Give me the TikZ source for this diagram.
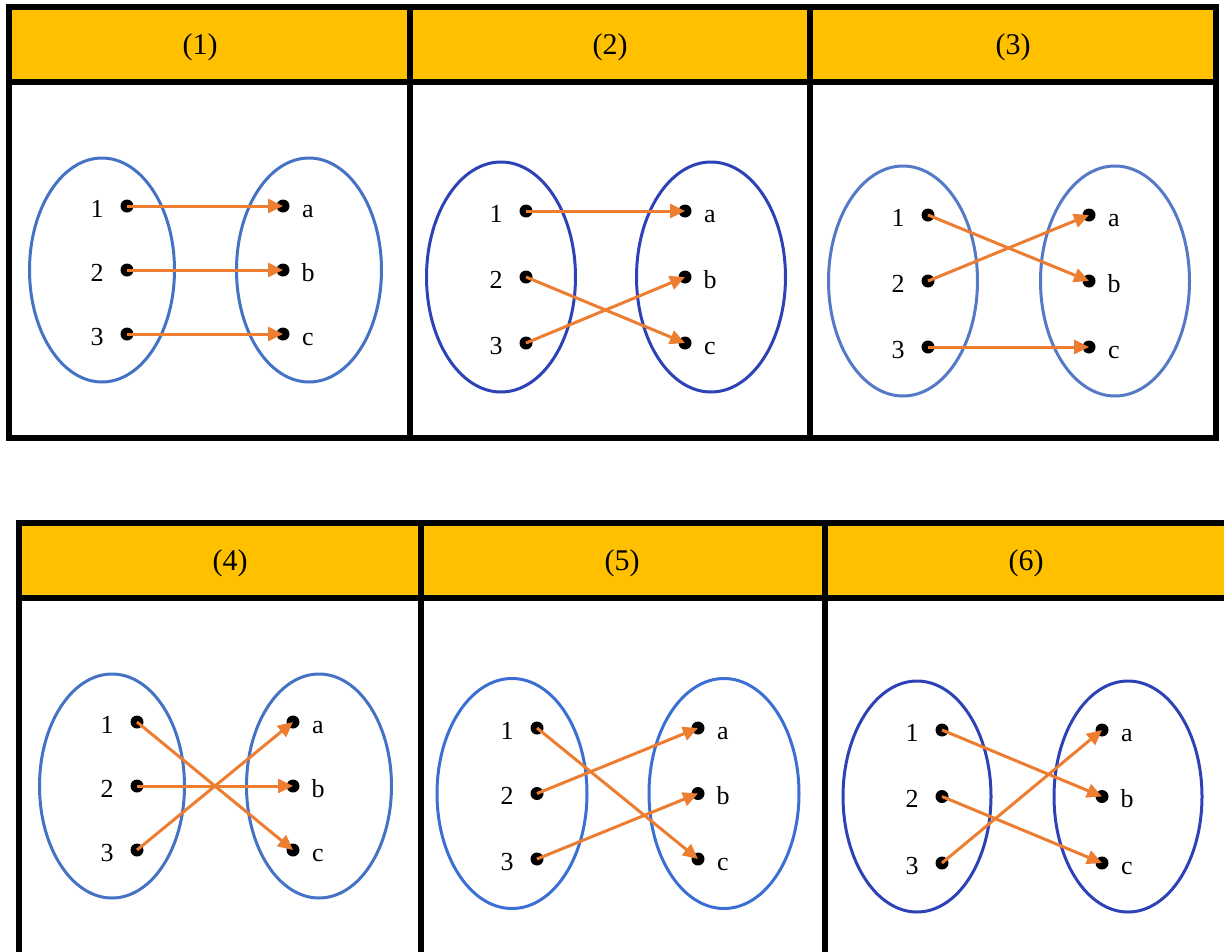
\documentclass[tikz,border=0pt]{standalone}
\usepackage{fontspec}
\setmainfont{Liberation Serif}
\usetikzlibrary{arrows.meta,shapes.geometric,positioning}
\definecolor{hdr}{HTML}{FFC000}
\definecolor{mapcol}{HTML}{ED7D31}
\definecolor{blueA}{HTML}{4472C4}
\definecolor{blueB}{HTML}{2C42B6}
\definecolor{blueC}{HTML}{5479C6}
\definecolor{blueD}{HTML}{3B6FD4}

\begin{document}
\begin{tikzpicture}[x=1pt, y=-1pt,
    grid/.style={line width=5.5pt},
    set/.style={ellipse, draw, line width=3pt, inner sep=0pt},
    elem/.style={circle, fill=black, inner sep=0pt, minimum size=13pt},
    lbl/.style={font=\fontsize{26}{30}\selectfont, inner sep=0pt, anchor=base},
    head/.style={font=\fontsize{30}{34}\selectfont, inner sep=0pt},
    map/.style={-{Triangle[length=15pt, width=14pt]}, line width=3pt, mapcol},
]
\useasboundingbox (0,0) rectangle (1224,951);
\clip (0,0) rectangle (1224,951);

% Top table
\fill[hdr] (9,7) rectangle (1216,82);
\draw[grid] (9,7) rectangle (1216,438);
\draw[grid] (9,82) -- (1216,82);
\draw[grid] (410,7) -- (410,438) (810,7) -- (810,438);

% Bottom table
\fill[hdr] (19,523) rectangle (1240,598);
\draw[grid] (1240,523) -- (19,523) -- (19,975);
\draw[grid] (19,598) -- (1240,598);
\draw[grid] (421,523) -- (421,975) (825,523) -- (825,975);

% Headers
\node[head] (h1) at (200,47) {(1)};
\node[head] (h2) at (610,47) {(2)};
\node[head] (h3) at (1013,47) {(3)};
\node[head] (h4) at (230,563) {(4)};
\node[head] (h5) at (622,563) {(5)};
\node[head] (h6) at (1026,563) {(6)};

% Sets and elements
\foreach \p/\col/\xl/\xr/\yt/\dy/\w/\h in {
    1/blueA/127/283/206/64/145/224,
    2/blueB/526/685/211/66/149/230,
    3/blueC/928/1089/215/66/149/230,
    4/blueA/137/293/722/64/145/224,
    5/blueD/537/698/728/65.5/150/230,
    6/blueB/942/1102/730/66.5/148/231} {
  \node[set, draw=\col, minimum width=\w, minimum height=\h] (L\p) at (\xl-25,\yt+\dy) {};
  \node[set, draw=\col, minimum width=\w, minimum height=\h] (R\p) at (\xr+26,\yt+\dy) {};
  \foreach \k/\n/\m in {0/1/a,1/2/b,2/3/c} {
    \node[elem] (p\p-\n) at (\xl,\yt+\k*\dy) {};
    \node[elem] (p\p-\m) at (\xr,\yt+\k*\dy) {};
    \node[lbl] (t\p-\n) at (\xl-30,\yt+\k*\dy+11) {\n};
    \node[lbl] (t\p-\m) at (\xr+25,\yt+\k*\dy+11) {\m};
  }
}

% Mappings
\foreach \p/\m in {1/{1/a,2/b,3/c}, 2/{1/a,2/c,3/b}, 3/{1/b,2/a,3/c},
                   4/{1/c,2/b,3/a}, 5/{1/c,2/a,3/b}, 6/{1/b,2/c,3/a}}
  \foreach \s/\t in \m
    \draw[map] (p\p-\s.center) -- (p\p-\t.center);
\end{tikzpicture}
\end{document}
